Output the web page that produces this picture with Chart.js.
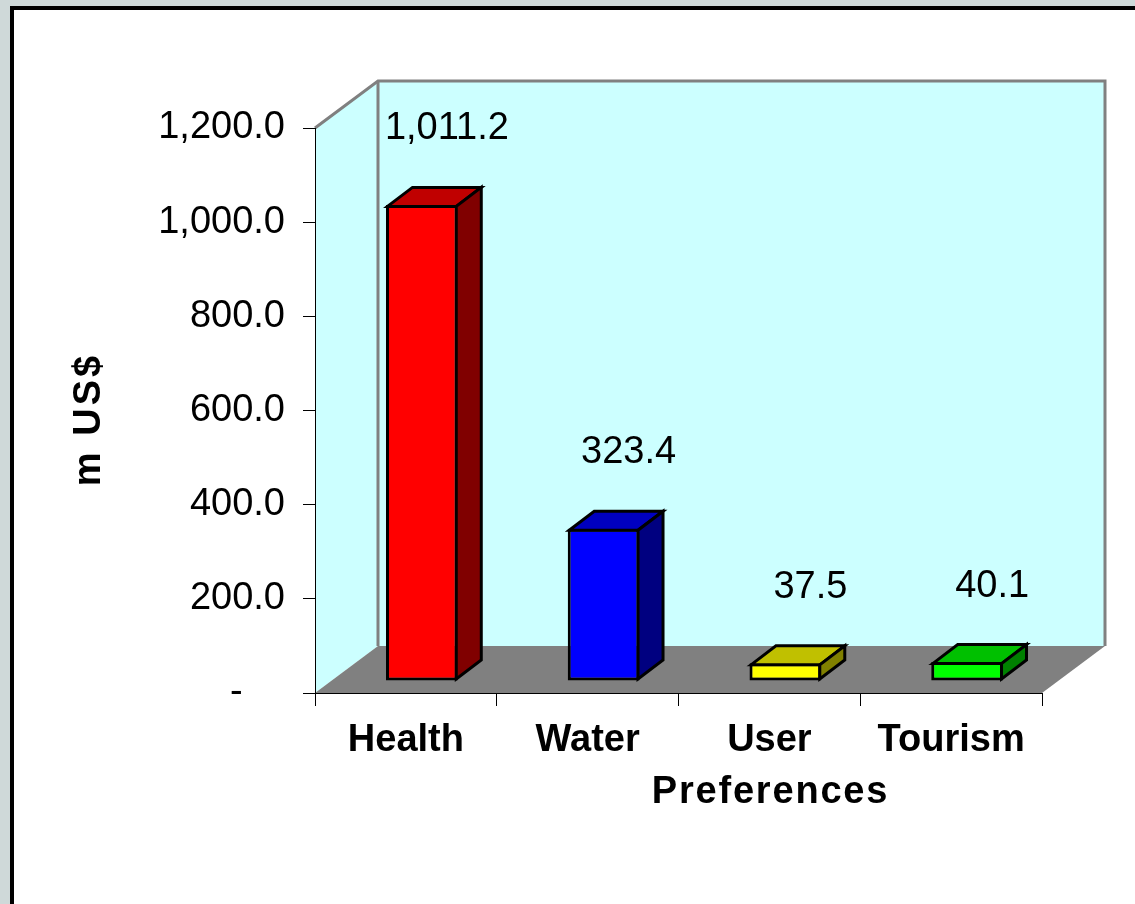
<!DOCTYPE html>
<html><head><meta charset="utf-8">
<script src="https://cdn.jsdelivr.net/npm/chart.js@4.4.0/dist/chart.umd.min.js"></script>
<style>
html,body{margin:0;padding:0;background:#cfd9d9;width:1135px;height:904px;overflow:hidden;}
#panel{position:absolute;left:10px;top:6px;width:1200px;height:1000px;border:4px solid #000;background:#fff;}
#wrap{position:absolute;left:0;top:0;width:1135px;height:904px;}
</style></head><body>
<div id="panel"></div>
<div id="wrap"><canvas id="c" width="1135" height="904"></canvas></div>
<script>
// ---- data ----
const categories = ['Health', 'Water', 'User', 'Tourism'];
const values = [1011.2, 323.4, 37.5, 40.1];
const yTicks = [0, 200, 400, 600, 800, 1000, 1200];
const yTitle = 'm US$';
const xTitle = 'Preferences';
const frontColors = ['#ff0000', '#0000ff', '#ffff00', '#00ff00'];
const topColors = ['#c00000', '#0000c0', '#c0c000', '#00c000'];
const sideColors = ['#800000', '#000080', '#808000', '#008000'];

// ---- style ----
const FONT = 'Liberation Sans, Arial, sans-serif';
const DEPTH = {dx: 63, dy: -47};
const BAR_OFF = {dx: 16, dy: -12};
const BAR_DEPTH = {dx: 25, dy: -19};
const LABEL_OFF = {dx: 41, dy: -88};

const fmt = v => v === 0 ? '-    ' : v.toLocaleString('en-US', {minimumFractionDigits: 1, maximumFractionDigits: 1});

const threeD = {
  id: 'threeD',
  beforeDraw(chart) {
    const {ctx, chartArea: {left, top, right, bottom}} = chart;
    const dx = DEPTH.dx, dy = DEPTH.dy;
    ctx.save();
    ctx.fillStyle = '#ccffff';
    ctx.beginPath();
    ctx.moveTo(left, top); ctx.lineTo(left + dx, top + dy); ctx.lineTo(left + dx, bottom + dy); ctx.lineTo(left, bottom);
    ctx.closePath(); ctx.fill();
    ctx.fillRect(left + dx, top + dy, right - left, bottom - top);
    ctx.fillStyle = '#808080';
    ctx.beginPath();
    ctx.moveTo(left, bottom); ctx.lineTo(left + dx, bottom + dy); ctx.lineTo(right + dx, bottom + dy); ctx.lineTo(right, bottom);
    ctx.closePath(); ctx.fill();
    ctx.strokeStyle = '#808080'; ctx.lineWidth = 3; ctx.lineJoin = 'miter';
    ctx.beginPath();
    ctx.moveTo(left, top); ctx.lineTo(left + dx, top + dy); ctx.lineTo(right + dx, top + dy); ctx.lineTo(right + dx, bottom + dy);
    ctx.stroke();
    ctx.beginPath();
    ctx.moveTo(left + dx, top + dy); ctx.lineTo(left + dx, bottom + dy);
    ctx.stroke();
    ctx.restore();
  },
  beforeDatasetsDraw(chart) {
    chart.ctx.save();
    chart.ctx.translate(BAR_OFF.dx, BAR_OFF.dy);
  },
  afterDatasetsDraw(chart) {
    const ctx = chart.ctx;
    const meta = chart.getDatasetMeta(0);
    const bx = BAR_DEPTH.dx, by = BAR_DEPTH.dy, h = 1.5;
    meta.data.forEach((bar, i) => {
      const {x, y, base, width} = bar.getProps(['x', 'y', 'base', 'width'], true);
      const l = x - width / 2 + h, r = x + width / 2 - h, t = y + h, b = base - h;
      ctx.lineWidth = 3; ctx.strokeStyle = '#000'; ctx.lineJoin = 'miter';
      ctx.fillStyle = topColors[i];
      ctx.beginPath();
      ctx.moveTo(l, t); ctx.lineTo(l + bx, t + by); ctx.lineTo(r + bx, t + by); ctx.lineTo(r, t);
      ctx.closePath(); ctx.fill(); ctx.stroke();
      ctx.fillStyle = sideColors[i];
      ctx.beginPath();
      ctx.moveTo(r, t); ctx.lineTo(r + bx, t + by); ctx.lineTo(r + bx, b + by); ctx.lineTo(r, b);
      ctx.closePath(); ctx.fill(); ctx.stroke();
    });
    ctx.restore();
    // data labels
    ctx.save();
    ctx.font = '38px ' + FONT;
    ctx.fillStyle = '#000';
    ctx.textAlign = 'center';
    ctx.textBaseline = 'middle';
    meta.data.forEach((bar, i) => {
      const {x, y} = bar.getProps(['x', 'y'], true);
      ctx.fillText(fmt(values[i]), x + LABEL_OFF.dx, y + LABEL_OFF.dy);
    });
    ctx.restore();
  },
  afterDraw(chart) {
    const ctx = chart.ctx;
    const xs = chart.scales.x, ys = chart.scales.y;
    ctx.save();
    ctx.fillStyle = '#000';
    ctx.textAlign = 'center';
    ctx.textBaseline = 'middle';
    ctx.font = 'bold 38px ' + FONT;
    ctx.letterSpacing = '1.8px';
    ctx.fillText(xTitle, (xs.left + xs.right) / 2 + 92, 793);
    ctx.letterSpacing = '3px';
    ctx.translate(90, (ys.top + ys.bottom) / 2 + 9);
    ctx.rotate(-Math.PI / 2);
    ctx.fillText(yTitle, 0, 0);
    ctx.restore();
  }
};

new Chart(document.getElementById('c'), {
  type: 'bar',
  data: {
    labels: categories,
    datasets: [{
      data: values,
      backgroundColor: frontColors,
      borderColor: '#000',
      borderWidth: 3,
      borderSkipped: false,
      categoryPercentage: 1,
      barPercentage: 0.395,
      clip: false
    }]
  },
  options: {
    responsive: false,
    animation: false,
    devicePixelRatio: 1,
    layout: {padding: {left: 0, top: 128, right: 93, bottom: 0}},
    plugins: {legend: {display: false}, tooltip: {enabled: false}, title: {display: false}},
    scales: {
      x: {
        offset: true,
        grid: {display: true, drawOnChartArea: false, offset: true, tickLength: 13, color: '#000', lineWidth: 1},
        border: {display: true, color: '#000', width: 1},
        ticks: {color: '#000', font: {family: FONT, size: 38, weight: 'bold'}, padding: 12, maxRotation: 0, autoSkip: false},
        afterFit: s => { s.height = 904 - 693; }
      },
      y: {
        min: 0, max: 1200,
        afterBuildTicks: s => { s.ticks = yTicks.map(v => ({value: v})); },
        grid: {display: true, drawOnChartArea: false, tickLength: 12, color: '#000', lineWidth: 1},
        border: {display: true, color: '#000', width: 1},
        ticks: {color: '#000', font: {family: FONT, size: 38}, padding: 18, callback: v => fmt(v)},
        afterFit: s => { s.width = 315; }
      }
    }
  },
  plugins: [threeD]
});
</script>
</body></html>
